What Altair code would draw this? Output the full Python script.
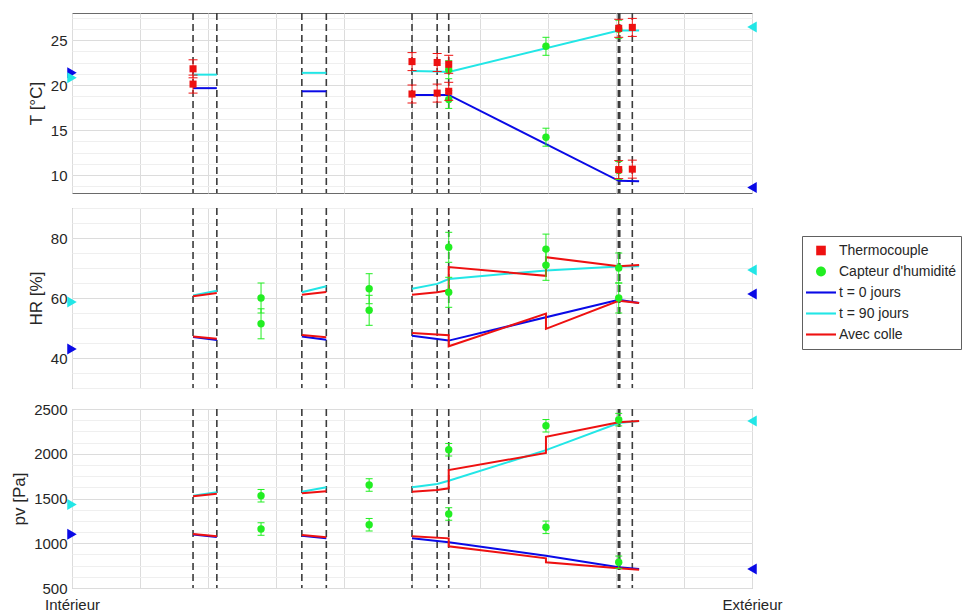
import altair as alt
import pandas as pd

FONT = "Liberation Sans"
TXT = "#262626"
BLUE = "#0a0ae6"
CYAN = "#22e6e6"
RED = "#ee1111"
GREEN = "#22ee22"

# ---------------- shared x positions (0 = Intérieur, 1 = Extérieur) ----------------
dash_x = [0.178, 0.213, 0.338, 0.374, 0.500, 0.537, 0.554, 0.8035, 0.8055, 0.824]
x_ticks = [0.0, 0.1, 0.2, 0.3, 0.4, 0.5, 0.6, 0.7, 0.8, 0.9, 1.0]

# ---------------- T panel ----------------
T_t0_x = [[0.178, 0.213], [0.338, 0.374], [0.500, 0.537, 0.554, 0.804, 0.834]]
T_t0_y = [[19.65, 19.65], [19.3, 19.3], [18.9, 18.9, 18.9, 9.35, 9.3]]
T_t90_x = [[0.178, 0.213], [0.338, 0.374], [0.500, 0.537, 0.554, 0.804, 0.834]]
T_t90_y = [[21.15, 21.15], [21.35, 21.35], [21.55, 21.5, 21.45, 26.05, 26.05]]
T_tc_x = [0.178, 0.178, 0.500, 0.500, 0.537, 0.537, 0.554, 0.554, 0.804, 0.804, 0.824, 0.824]
T_tc_y = [21.8, 20.1, 22.6, 19.0, 22.5, 19.1, 22.3, 19.3, 26.3, 10.6, 26.4, 10.65]
T_tc_err = [1.0] * 12
T_hr_x = [0.554, 0.554, 0.697, 0.697, 0.804, 0.804]
T_hr_y = [21.7, 18.4, 24.3, 14.2, 26.2, 10.5]
T_hr_err = [1.0] * 6
T_bc_t0 = [21.35, 8.6]     # left, right boundary
T_bc_t90 = [20.8, 26.45]

# ---------------- HR panel ----------------
H_t0_x = [[0.178, 0.213], [0.338, 0.374], [0.500, 0.554, 0.804, 0.834]]
H_t0_y = [[47.0, 46.0], [47.2, 46.1], [47.4, 45.8, 59.4, 58.3]]
H_t90_x = [[0.178, 0.213], [0.338, 0.374], [0.500, 0.537, 0.554, 0.697, 0.804, 0.834]]
H_t90_y = [[60.8, 62.4], [61.9, 63.9], [63.1, 64.7, 66.3, 69.2, 70.5, 70.6]]
H_col_x = [[0.178, 0.213], [0.338, 0.374], [0.500, 0.537, 0.554, 0.554, 0.697, 0.697, 0.804, 0.834],
           [0.178, 0.213], [0.338, 0.374], [0.500, 0.554, 0.554, 0.697, 0.697, 0.804, 0.834]]
H_col_y = [[60.6, 61.7], [61.1, 62.0], [61.1, 61.9, 62.6, 70.3, 67.4, 73.6, 70.6, 71.0],
           [47.2, 46.4], [47.7, 46.9], [48.3, 47.6, 43.9, 54.8, 49.7, 59.1, 58.3]]
H_hr_x = [0.278, 0.278, 0.437, 0.437, 0.554, 0.554, 0.697, 0.697, 0.804, 0.804]
H_hr_y = [60.0, 51.4, 63.1, 55.9, 76.9, 61.9, 76.3, 70.9, 70.0, 60.0]
H_hr_err = [5.0] * 10
H_bc_t0 = [43.0, 61.3]
H_bc_t90 = [58.7, 69.3]

# ---------------- pv panel ----------------
P_t0_x = [[0.178, 0.213], [0.338, 0.374], [0.500, 0.554, 0.697, 0.804, 0.834]]
P_t0_y = [[1098, 1070], [1085, 1055], [1055, 1011, 861, 731, 713]]
P_t90_x = [[0.178, 0.213], [0.338, 0.374], [0.500, 0.537, 0.554, 0.697, 0.804, 0.834]]
P_t90_y = [[1530, 1570], [1576, 1625], [1625, 1662, 1699, 2040, 2344, 2366]]
P_col_x = [[0.178, 0.213], [0.338, 0.374], [0.500, 0.537, 0.554, 0.554, 0.697, 0.697, 0.804, 0.834],
           [0.178, 0.213], [0.338, 0.374], [0.500, 0.554, 0.554, 0.697, 0.697, 0.804, 0.834]]
P_col_y = [[1525, 1552], [1558, 1580], [1576, 1595, 1614, 1818, 2008, 2190, 2351, 2366],
           [1103, 1078], [1092, 1066], [1078, 1055, 966, 832, 787, 720, 705]]
P_hr_x = [0.278, 0.278, 0.437, 0.437, 0.554, 0.554, 0.697, 0.697, 0.804, 0.804]
P_hr_y = [1531, 1159, 1651, 1207, 2045, 1327, 2313, 1178, 2381, 787]
P_hr_err = [70] * 10
P_bc_t0 = [1100, 713]
P_bc_t90 = [1433, 2367]

# ---------------- legend ----------------
leg_labels = ["Thermocouple", "Capteur d'humidité", "t = 0 jours", "t = 90 jours", "Avec colle"]
leg_colors = [RED, GREEN, BLUE, CYAN, RED]
SQ = "M-0.32,-0.32L0.32,-0.32L0.32,0.32L-0.32,0.32Z"
CI = "M-0.33,0A0.33,0.33,0,1,1,0.33,0A0.33,0.33,0,1,1,-0.33,0Z"
LN = "M-1,-0.07L1,-0.07L1,0.07L-1,0.07Z"
leg_shapes = [SQ, CI, LN, LN, LN]


def seg_df(xs_list, ys_list):
    rows = []
    for s, (xs, ys) in enumerate(zip(xs_list, ys_list)):
        for i, (x, y) in enumerate(zip(xs, ys)):
            rows.append({"x": x, "y": y, "seg": s, "i": i})
    return pd.DataFrame(rows)


def pt_df(xs, ys, errs):
    return pd.DataFrame({"x": xs, "y": ys,
                         "lo": [y - e for y, e in zip(ys, errs)],
                         "hi": [y + e for y, e in zip(ys, errs)]})


def panel(lines, tc, hr, bc_t0, bc_t90, ydom, yticks, yminor, ytitle, height, bottom, with_legend):
    xscale = alt.Scale(domain=[0, 1], nice=False, zero=False)
    yscale = alt.Scale(domain=ydom, nice=False, zero=False)
    if bottom:
        xaxis = alt.Axis(values=x_ticks, grid=True, title=None, labelFlush=False, labelOverlap=False,
                         labelExpr="datum.value == 0 ? 'Intérieur' : (datum.value == 1 ? 'Extérieur' : '')",
                         labelPadding=9)
    else:
        xaxis = alt.Axis(values=x_ticks, grid=True, labels=False, title=None)
    X = alt.X("x:Q", scale=xscale, axis=xaxis)
    Y = alt.Y("y:Q", scale=yscale, axis=alt.Axis(orient="left", values=yticks, title=ytitle, grid=True,
                                               format="d"))

    layers = []
    layers.append(alt.Chart(pd.DataFrame({"x": dash_x})).mark_rule(
        strokeDash=[7, 4], color="#3c3c3c", strokeWidth=1.6).encode(x=X))
    for df, col in lines:
        layers.append(alt.Chart(df).mark_line(color=col, strokeWidth=2).encode(
            x=X, y=Y, detail="seg:N", order="i:Q"))
    if hr is not None:
        layers.append(alt.Chart(hr).mark_rule(color=GREEN, strokeWidth=1).encode(x=X, y=alt.Y("lo:Q", scale=yscale), y2="hi:Q"))
        for f in ["lo", "hi"]:
            layers.append(alt.Chart(hr).mark_tick(orient="horizontal", size=7, thickness=1, color=GREEN, opacity=1).encode(
                x=X, y=alt.Y(f + ":Q", scale=yscale)))
        layers.append(alt.Chart(hr).mark_circle(size=55, color=GREEN, opacity=1).encode(x=X, y=Y))
    if tc is not None:
        layers.append(alt.Chart(tc).mark_rule(color=RED, strokeWidth=1).encode(x=X, y=alt.Y("lo:Q", scale=yscale), y2="hi:Q"))
        for f in ["lo", "hi"]:
            layers.append(alt.Chart(tc).mark_tick(orient="horizontal", size=9, thickness=1, color=RED, opacity=1).encode(
                x=X, y=alt.Y(f + ":Q", scale=yscale)))
        layers.append(alt.Chart(tc).mark_square(size=50, color=RED, opacity=1).encode(x=X, y=Y))
    for vals, col in [(bc_t0, BLUE), (bc_t90, CYAN)]:
        layers.append(alt.Chart(pd.DataFrame({"x": [0.0], "y": [vals[0]]})).mark_point(
            shape="triangle-right", filled=True, size=120, color=col, opacity=1).encode(x=X, y=Y))
        layers.append(alt.Chart(pd.DataFrame({"x": [1.0], "y": [vals[1]]})).mark_point(
            shape="triangle-left", filled=True, size=120, color=col, opacity=1).encode(x=X, y=Y))
    if with_legend:
        leg = alt.Legend(orient="none", legendX=730, legendY=223, title=None, symbolSize=900,
                         clipHeight=21, rowPadding=0, padding=4, strokeColor="#606060", fillColor="white",
                         labelFont=FONT, labelFontSize=14, labelColor=TXT, labelOffset=3,
                         symbolStrokeWidth=0, symbolOpacity=1, labelLimit=300)
        layers.append(alt.Chart(pd.DataFrame({"series": leg_labels})).mark_point(filled=True, opacity=0).encode(
            x=alt.value(0), y=alt.value(0),
            color=alt.Color("series:N", scale=alt.Scale(domain=leg_labels, range=leg_colors), legend=leg),
            shape=alt.Shape("series:N", scale=alt.Scale(domain=leg_labels, range=leg_shapes), legend=leg)))

    main = alt.layer(*layers)
    minor_src = hr if hr is not None else tc
    minor = alt.Chart(minor_src).mark_point(opacity=0).encode(
        x=X,
        y=alt.Y("y:Q", scale=yscale, axis=alt.Axis(orient="right", values=yminor, grid=True, gridColor="#efefef",
                                                  labels=False, ticks=False, domain=False, title=None)))
    return alt.layer(minor, main).resolve_axis(y="independent").properties(width=680, height=height)


T_lines = [(seg_df(T_t90_x, T_t90_y), CYAN), (seg_df(T_t0_x, T_t0_y), BLUE)]
H_lines = [(seg_df(H_t90_x, H_t90_y), CYAN), (seg_df(H_t0_x, H_t0_y), BLUE), (seg_df(H_col_x, H_col_y), RED)]
P_lines = [(seg_df(P_t90_x, P_t90_y), CYAN), (seg_df(P_t0_x, P_t0_y), BLUE), (seg_df(P_col_x, P_col_y), RED)]

T_minor = [8.75 + 1.25 * k for k in range(16)]
H_minor = [30 + 5 * k for k in range(13)]
P_minor = [500 + 125 * k for k in range(17)]

pT = panel(T_lines, pt_df(T_tc_x, T_tc_y, T_tc_err), pt_df(T_hr_x, T_hr_y, T_hr_err), T_bc_t0, T_bc_t90,
           [8, 28], [10, 15, 20, 25], T_minor, "T [°C]", 180, False, False)
pH = panel(H_lines, None, pt_df(H_hr_x, H_hr_y, H_hr_err), H_bc_t0, H_bc_t90,
           [30, 90], [40, 60, 80], H_minor, "HR [%]", 180, False, True)
pP = panel(P_lines, None, pt_df(P_hr_x, P_hr_y, P_hr_err), P_bc_t0, P_bc_t90,
           [500, 2500], [500, 1000, 1500, 2000, 2500], P_minor, "pv [Pa]", 179, True, False)

chart = alt.vconcat(pT, pH, pP, spacing=11).configure(
    padding={"left": 2, "top": 3, "right": 0, "bottom": 0}
).configure_view(stroke="#6a6a6a", strokeWidth=1).configure_axis(
    labelFont=FONT, labelFontSize=15, labelColor=TXT, titleFont=FONT, titleFontSize=17,
    titleColor=TXT, titleFontWeight="normal", domain=False, ticks=False, gridColor="#dcdcdc",
    labelPadding=5, titlePadding=5
)

chart.save("out.html", embed_options={"renderer": "svg", "actions": False})
